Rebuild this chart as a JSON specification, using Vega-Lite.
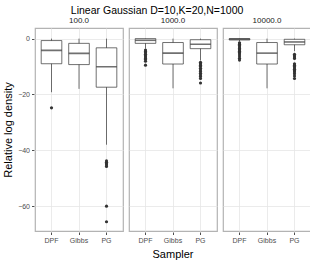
{
  "$schema": "https://vega.github.io/schema/vega-lite/v6.json",
  "padding": {"left": 2, "top": 5, "right": 4, "bottom": 1},
  "title": {"text": "Linear Gaussian D=10,K=20,N=1000", "fontSize": 10.5, "fontWeight": "normal", "font": "Liberation Sans", "color": "#000000", "anchor": "middle", "offset": 1},
  "data": {"values": [
    {"kind": "box", "N": "100.0", "sampler": "DPF", "lower": -19.2, "q1": -9.0, "median": -4.2, "q3": -0.7, "upper": 0},
    {"kind": "box", "N": "100.0", "sampler": "Gibbs", "lower": -18.0, "q1": -9.3, "median": -5.3, "q3": -1.7, "upper": 0},
    {"kind": "box", "N": "100.0", "sampler": "PG", "lower": -38.0, "q1": -17.4, "median": -10.1, "q3": -3.3, "upper": 0},
    {"kind": "box", "N": "1000.0", "sampler": "DPF", "lower": -3.6, "q1": -1.7, "median": -0.6, "q3": 0, "upper": 0},
    {"kind": "box", "N": "1000.0", "sampler": "Gibbs", "lower": -17.8, "q1": -9.1, "median": -5.2, "q3": -1.4, "upper": 0},
    {"kind": "box", "N": "1000.0", "sampler": "PG", "lower": -7.8, "q1": -3.6, "median": -2.0, "q3": -0.4, "upper": 0},
    {"kind": "box", "N": "10000.0", "sampler": "DPF", "lower": -1.0, "q1": -0.5, "median": -0.2, "q3": 0, "upper": 0},
    {"kind": "box", "N": "10000.0", "sampler": "Gibbs", "lower": -17.8, "q1": -9.1, "median": -5.2, "q3": -1.4, "upper": 0},
    {"kind": "box", "N": "10000.0", "sampler": "PG", "lower": -4.5, "q1": -2.2, "median": -1.2, "q3": -0.25, "upper": 0},
    {"kind": "out", "N": "100.0", "sampler": "DPF", "value": -24.8},
    {"kind": "out", "N": "100.0", "sampler": "PG", "value": -43.8},
    {"kind": "out", "N": "100.0", "sampler": "PG", "value": -44.3},
    {"kind": "out", "N": "100.0", "sampler": "PG", "value": -44.8},
    {"kind": "out", "N": "100.0", "sampler": "PG", "value": -45.3},
    {"kind": "out", "N": "100.0", "sampler": "PG", "value": -45.8},
    {"kind": "out", "N": "100.0", "sampler": "PG", "value": -60.0},
    {"kind": "out", "N": "100.0", "sampler": "PG", "value": -65.6},
    {"kind": "out", "N": "1000.0", "sampler": "DPF", "value": -4.1},
    {"kind": "out", "N": "1000.0", "sampler": "DPF", "value": -4.6},
    {"kind": "out", "N": "1000.0", "sampler": "DPF", "value": -5.1},
    {"kind": "out", "N": "1000.0", "sampler": "DPF", "value": -5.6},
    {"kind": "out", "N": "1000.0", "sampler": "DPF", "value": -6.1},
    {"kind": "out", "N": "1000.0", "sampler": "DPF", "value": -6.6},
    {"kind": "out", "N": "1000.0", "sampler": "DPF", "value": -7.1},
    {"kind": "out", "N": "1000.0", "sampler": "DPF", "value": -7.5},
    {"kind": "out", "N": "1000.0", "sampler": "DPF", "value": -8.1},
    {"kind": "out", "N": "1000.0", "sampler": "DPF", "value": -9.5},
    {"kind": "out", "N": "1000.0", "sampler": "PG", "value": -8.5},
    {"kind": "out", "N": "1000.0", "sampler": "PG", "value": -9.0},
    {"kind": "out", "N": "1000.0", "sampler": "PG", "value": -9.5},
    {"kind": "out", "N": "1000.0", "sampler": "PG", "value": -10.0},
    {"kind": "out", "N": "1000.0", "sampler": "PG", "value": -10.6},
    {"kind": "out", "N": "1000.0", "sampler": "PG", "value": -11.2},
    {"kind": "out", "N": "1000.0", "sampler": "PG", "value": -11.8},
    {"kind": "out", "N": "1000.0", "sampler": "PG", "value": -12.4},
    {"kind": "out", "N": "1000.0", "sampler": "PG", "value": -13.0},
    {"kind": "out", "N": "1000.0", "sampler": "PG", "value": -13.6},
    {"kind": "out", "N": "1000.0", "sampler": "PG", "value": -14.3},
    {"kind": "out", "N": "1000.0", "sampler": "PG", "value": -15.9},
    {"kind": "out", "N": "10000.0", "sampler": "DPF", "value": -1.5},
    {"kind": "out", "N": "10000.0", "sampler": "DPF", "value": -2.0},
    {"kind": "out", "N": "10000.0", "sampler": "DPF", "value": -2.5},
    {"kind": "out", "N": "10000.0", "sampler": "DPF", "value": -3.0},
    {"kind": "out", "N": "10000.0", "sampler": "DPF", "value": -3.5},
    {"kind": "out", "N": "10000.0", "sampler": "DPF", "value": -4.0},
    {"kind": "out", "N": "10000.0", "sampler": "DPF", "value": -4.5},
    {"kind": "out", "N": "10000.0", "sampler": "DPF", "value": -5.0},
    {"kind": "out", "N": "10000.0", "sampler": "DPF", "value": -5.5},
    {"kind": "out", "N": "10000.0", "sampler": "DPF", "value": -6.2},
    {"kind": "out", "N": "10000.0", "sampler": "DPF", "value": -7.0},
    {"kind": "out", "N": "10000.0", "sampler": "DPF", "value": -7.7},
    {"kind": "out", "N": "10000.0", "sampler": "PG", "value": -5.6},
    {"kind": "out", "N": "10000.0", "sampler": "PG", "value": -6.1},
    {"kind": "out", "N": "10000.0", "sampler": "PG", "value": -6.6},
    {"kind": "out", "N": "10000.0", "sampler": "PG", "value": -7.1},
    {"kind": "out", "N": "10000.0", "sampler": "PG", "value": -9.0},
    {"kind": "out", "N": "10000.0", "sampler": "PG", "value": -9.5},
    {"kind": "out", "N": "10000.0", "sampler": "PG", "value": -10.0},
    {"kind": "out", "N": "10000.0", "sampler": "PG", "value": -10.5},
    {"kind": "out", "N": "10000.0", "sampler": "PG", "value": -11.0},
    {"kind": "out", "N": "10000.0", "sampler": "PG", "value": -11.5},
    {"kind": "out", "N": "10000.0", "sampler": "PG", "value": -12.0},
    {"kind": "out", "N": "10000.0", "sampler": "PG", "value": -12.6},
    {"kind": "out", "N": "10000.0", "sampler": "PG", "value": -13.4},
    {"kind": "out", "N": "10000.0", "sampler": "PG", "value": -14.3}
  ]},
  "facet": {
    "column": {"field": "N", "type": "nominal", "sort": ["100.0", "1000.0", "10000.0"], "title": "Sampler",
      "header": {"labelFontSize": 8, "labelColor": "#1a1a1a", "labelFont": "Liberation Sans", "labelPadding": 2, "labelOrient": "top",
        "titleOrient": "bottom", "titleFontSize": 11, "titleFontWeight": "normal", "titleColor": "#000000", "titleFont": "Liberation Sans", "titlePadding": -5}}
  },
  "spacing": 4,
  "spec": {
    "width": 88,
    "height": 203,
    "encoding": {
      "x": {"field": "sampler", "type": "nominal", "sort": ["DPF", "Gibbs", "PG"], "title": null,
        "scale": {"type": "band", "paddingInner": 0.25, "paddingOuter": 0.225},
        "axis": {"bandPosition": 0.5, "labelAngle": 0, "labelFontSize": 7, "labelColor": "#4d4d4d", "tickColor": "#4d4d4d", "tickSize": 2.5, "labelPadding": 2, "domain": false, "grid": true, "gridColor": "#e6e6e6", "gridWidth": 0.8}}
    },
    "layer": [
      {
        "transform": [{"filter": "datum.kind === 'box'"}],
        "mark": {"type": "rule", "color": "#333333", "strokeWidth": 0.7},
        "encoding": {
          "y": {"field": "lower", "type": "quantitative", "title": "Relative log density",
            "scale": {"domain": [-68.9, 3.8], "nice": false, "zero": false},
            "axis": {"values": [-60, -50, -40, -30, -20, -10, 0],
              "labelExpr": "datum.value % 20 === 0 ? datum.label : ''",
              "labelFontSize": 7, "labelColor": "#4d4d4d", "labelPadding": 2,
              "tickSize": 2.5, "tickColor": "#4d4d4d",
              "tickOpacity": {"condition": {"test": "datum.value % 20 === 0", "value": 1}, "value": 0},
              "domain": false, "grid": true,
              "gridColor": {"condition": {"test": "datum.value % 20 === 0", "value": "#e6e6e6"}, "value": "#f2f2f2"},
              "gridWidth": {"condition": {"test": "datum.value % 20 === 0", "value": 0.8}, "value": 0.5},
              "titleFontSize": 11, "titleFontWeight": "normal", "titlePadding": 4}},
          "y2": {"field": "upper"}
        }
      },
      {
        "transform": [{"filter": "datum.kind === 'box'"}],
        "mark": {"type": "bar", "fill": "#ffffff", "stroke": "#333333", "strokeWidth": 0.7},
        "encoding": {
          "y": {"field": "q1", "type": "quantitative"},
          "y2": {"field": "q3"}
        }
      },
      {
        "transform": [{"filter": "datum.kind === 'box'"}],
        "mark": {"type": "tick", "color": "#333333", "size": 20.6, "thickness": 1.6},
        "encoding": {
          "y": {"field": "median", "type": "quantitative"}
        }
      },
      {
        "transform": [{"filter": "datum.kind === 'out'"}],
        "mark": {"type": "point", "filled": true, "color": "#333333", "size": 10, "opacity": 1},
        "encoding": {
          "y": {"field": "value", "type": "quantitative"}
        }
      }
    ]
  },
  "config": {
    "font": "Liberation Sans",
    "view": {"stroke": "#b3b3b3", "strokeWidth": 1.2}
  }
}
